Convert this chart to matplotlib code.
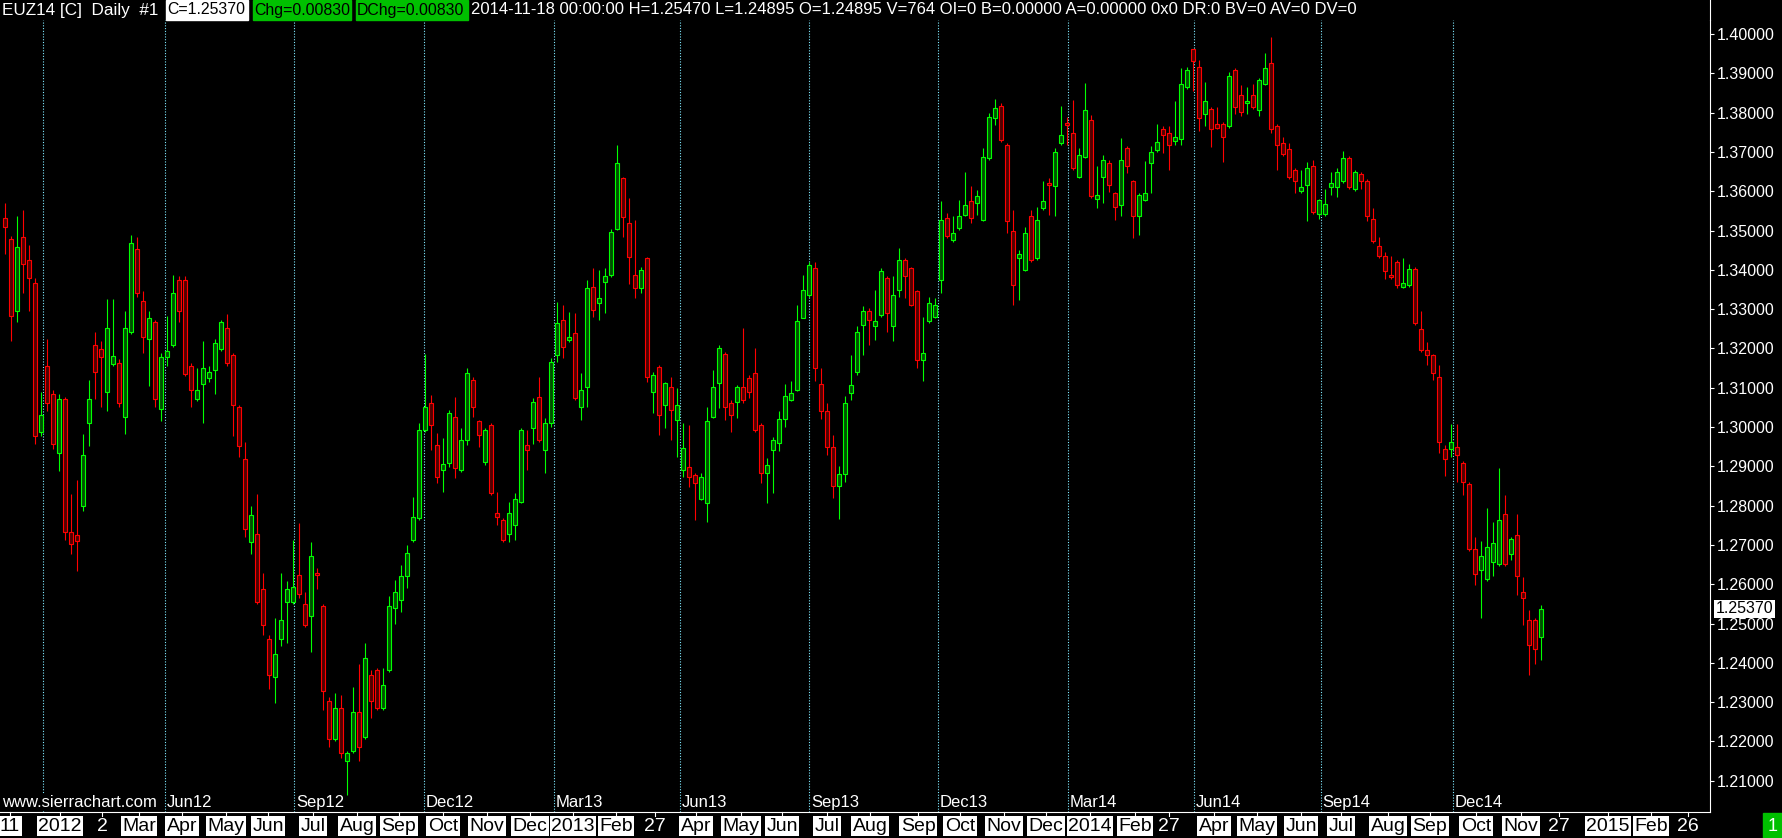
import numpy as np
import matplotlib
matplotlib.use("Agg")
import matplotlib.pyplot as plt
from matplotlib.lines import Line2D
from matplotlib.patches import Rectangle
from matplotlib.transforms import blended_transform_factory

# EUZ14 daily bars (resampled), prices in 1e-4 units
opens = [13531, 13478, 13294, 13483, 13425, 13367, 12988, 13156, 13083, 12935,
         13072, 12734, 12724, 12798, 13009, 13209, 13199, 13088, 13160, 13162,
         13025, 13241, 13452, 13320, 13225, 13267, 13046, 13178, 13209, 13373,
         13373, 13156, 13072, 13109, 13125, 13146, 13199, 13251, 13183, 13051,
         12919, 12708, 12729, 12587, 12460, 12365, 12460, 12555, 12555, 12624,
         12550, 12518, 12629, 12545, 12302, 12207, 12286, 12149, 12175, 12276,
         12212, 12370, 12381, 12286, 12381, 12540, 12560, 12620, 12712, 12768,
         12992, 13060, 12954, 12890, 12908, 13026, 12891, 12967, 13120, 13014,
         12912, 13005, 12780, 12763, 12729, 12751, 12810, 12954, 12997, 13077,
         12941, 13009, 13183, 13272, 13221, 13238, 13052, 13103, 13357, 13315,
         13370, 13387, 13505, 13633, 13518, 13387, 13353, 13429, 13090, 13153,
         13056, 13103, 13018, 12891, 12899, 12878, 12818, 12806, 13026, 13111,
         13187, 13060, 13064, 13103, 13124, 13137, 13005, 12882, 12941, 12960,
         13020, 13069, 13095, 13277, 13336, 13404, 13110, 13040, 12950, 12850,
         12880, 13086, 13141, 13260, 13294, 13256, 13286, 13379, 13256, 13349,
         13425, 13404, 13345, 13171, 13269, 13281, 13375, 13531, 13476, 13506,
         13540, 13574, 13570, 13527, 13684, 13786, 13816, 13718, 13498, 13430,
         13400, 13536, 13430, 13557, 13620, 13612, 13722, 13773, 13748, 13637,
         13688, 13782, 13580, 13637, 13671, 13595, 13565, 13710, 13625, 13536,
         13578, 13671, 13705, 13757, 13747, 13728, 13732, 13864, 13961, 13917,
         13796, 13810, 13771, 13771, 13767, 13908, 13844, 13825, 13844, 13806,
         13874, 13927, 13767, 13723, 13708, 13654, 13601, 13616, 13664, 13543,
         13543, 13611, 13611, 13625, 13684, 13606, 13645, 13625, 13528, 13460,
         13435, 13387, 13421, 13357, 13362, 13401, 13250, 13197, 13182, 13128,
         12944, 12944, 12948, 12909, 12856, 12690, 12637, 12612, 12656, 12651,
         12778, 12676, 12724, 12580, 12508, 12508, 12466]

highs = [13570, 13485, 13536, 13552, 13462, 13378, 13088, 13225, 13093, 13083,
         13077, 12829, 12866, 12982, 13119, 13241, 13220, 13325, 13325, 13172,
         13294, 13489, 13483, 13346, 13294, 13272, 13188, 13283, 13388, 13383,
         13383, 13162, 13151, 13220, 13156, 13225, 13272, 13288, 13188, 13056,
         12961, 12798, 12829, 12629, 12471, 12513, 12629, 12608, 12713, 12756,
         12581, 12708, 12640, 12550, 12312, 12323, 12318, 12175, 12339, 12397,
         12450, 12381, 12386, 12386, 12571, 12610, 12650, 12700, 12823, 13009,
         13187, 13081, 12984, 12971, 13043, 13077, 12997, 13149, 13128, 13018,
         12997, 13009, 12835, 12768, 12810, 12831, 12997, 12992, 13073, 13128,
         13022, 13175, 13319, 13310, 13293, 13289, 13137, 13374, 13404, 13399,
         13404, 13505, 13717, 13637, 13582, 13527, 13408, 13433, 13141, 13158,
         13115, 13128, 13098, 13009, 13005, 12882, 12882, 13052, 13145, 13209,
         13192, 13069, 13107, 13251, 13132, 13200, 13009, 12920, 12975, 13040,
         13110, 13116, 13311, 13387, 13421, 13421, 13150, 13060, 12980, 12900,
         13080, 13184, 13256, 13307, 13302, 13349, 13404, 13383, 13383, 13455,
         13430, 13408, 13349, 13281, 13332, 13328, 13574, 13544, 13536, 13578,
         13650, 13612, 13604, 13710, 13799, 13834, 13824, 13722, 13553, 13450,
         13510, 13553, 13561, 13625, 13633, 13710, 13816, 13790, 13832, 13710,
         13875, 13794, 13663, 13693, 13680, 13599, 13735, 13714, 13629, 13595,
         13676, 13714, 13771, 13767, 13767, 13830, 13913, 13917, 13963, 13934,
         13879, 13815, 13815, 13776, 13903, 13913, 13869, 13864, 13874, 13888,
         13952, 13992, 13771, 13737, 13723, 13659, 13654, 13674, 13679, 13581,
         13606, 13650, 13659, 13703, 13689, 13655, 13650, 13630, 13557, 13484,
         13445, 13435, 13426, 13430, 13416, 13406, 13294, 13216, 13187, 13158,
         12953, 13007, 13007, 12914, 12861, 12719, 12710, 12793, 12758, 12895,
         12827, 12720, 12778, 12619, 12534, 12513, 12547]

lows = [13441, 13220, 13267, 13341, 13294, 12956, 12977, 13040, 12945, 12887,
        12713, 12676, 12634, 12787, 12951, 13072, 13051, 13040, 13156, 13051,
        12982, 13236, 13330, 13188, 13104, 13051, 13014, 13156, 13204, 13267,
        13130, 13051, 13067, 13009, 13114, 13083, 13193, 13156, 12977, 12924,
        12719, 12676, 12550, 12471, 12334, 12297, 12444, 12450, 12550, 12566,
        12492, 12428, 12587, 12281, 12186, 12202, 12159, 12064, 12170, 12149,
        12207, 12260, 12281, 12281, 12376, 12500, 12530, 12590, 12708, 12763,
        12988, 12941, 12857, 12835, 12899, 12869, 12886, 12954, 13026, 12950,
        12903, 12827, 12751, 12708, 12708, 12712, 12806, 12891, 12958, 12963,
        12882, 13001, 13166, 13175, 13217, 13069, 13018, 13052, 13281, 13272,
        13289, 13382, 13501, 13484, 13365, 13327, 13340, 13115, 13035, 12980,
        12997, 12967, 12924, 12874, 12848, 12763, 12814, 12759, 13022, 13048,
        13018, 12988, 13022, 13060, 13073, 12988, 12857, 12806, 12831, 12940,
        13000, 13065, 13091, 13277, 13332, 13116, 13020, 12930, 12820, 12765,
        12860, 13069, 13133, 13184, 13209, 13222, 13281, 13243, 13218, 13332,
        13328, 13307, 13150, 13116, 13264, 13277, 13341, 13481, 13472, 13502,
        13536, 13519, 13540, 13523, 13680, 13769, 13726, 13493, 13311, 13324,
        13396, 13421, 13425, 13553, 13540, 13536, 13718, 13718, 13654, 13633,
        13684, 13582, 13557, 13570, 13599, 13527, 13536, 13646, 13481, 13489,
        13574, 13595, 13700, 13698, 13655, 13718, 13718, 13859, 13854, 13752,
        13767, 13713, 13757, 13674, 13762, 13796, 13791, 13796, 13810, 13791,
        13869, 13747, 13654, 13689, 13630, 13596, 13596, 13523, 13543, 13528,
        13538, 13591, 13586, 13620, 13606, 13601, 13606, 13523, 13469, 13430,
        13377, 13377, 13353, 13353, 13357, 13260, 13192, 13158, 13119, 12934,
        12875, 12924, 12861, 12827, 12685, 12598, 12515, 12607, 12622, 12646,
        12646, 12661, 12573, 12496, 12368, 12398, 12407]

closes = [13510, 13283, 13457, 13415, 13378, 12977, 13030, 13061, 12956, 13072,
          12734, 12703, 12710, 12930, 13072, 13141, 13178, 13251, 13180, 13061,
          13251, 13468, 13341, 13230, 13278, 13072, 13178, 13193, 13341, 13294,
          13135, 13093, 13093, 13151, 13141, 13214, 13267, 13162, 13056, 12951,
          12740, 12777, 12555, 12497, 12370, 12423, 12508, 12587, 12592, 12576,
          12497, 12671, 12624, 12328, 12207, 12286, 12170, 12170, 12276, 12186,
          12413, 12302, 12286, 12344, 12545, 12580, 12620, 12680, 12772, 12992,
          13052, 13005, 12874, 12905, 13035, 12895, 12967, 13137, 13052, 12980,
          12992, 12831, 12770, 12712, 12780, 12818, 12992, 12941, 13064, 12967,
          13009, 13166, 13264, 13204, 13230, 13073, 13094, 13353, 13298, 13327,
          13385, 13497, 13671, 13535, 13433, 13353, 13399, 13128, 13132, 13031,
          13111, 13043, 13056, 12946, 12874, 12857, 12874, 13014, 13103, 13200,
          13052, 13031, 13103, 13069, 13090, 12992, 12882, 12903, 12967, 13020,
          13080, 13086, 13269, 13349, 13413, 13150, 13040, 12950, 12850, 12880,
          13060, 13107, 13243, 13294, 13273, 13269, 13396, 13290, 13336, 13425,
          13383, 13311, 13171, 13188, 13315, 13311, 13527, 13485, 13493, 13536,
          13565, 13531, 13587, 13688, 13790, 13811, 13731, 13523, 13362, 13440,
          13493, 13425, 13527, 13574, 13616, 13701, 13743, 13769, 13659, 13693,
          13807, 13587, 13590, 13680, 13616, 13561, 13680, 13663, 13536, 13591,
          13595, 13701, 13726, 13742, 13718, 13737, 13874, 13908, 13932, 13786,
          13830, 13757, 13762, 13739, 13893, 13815, 13801, 13830, 13815, 13883,
          13913, 13757, 13718, 13694, 13635, 13625, 13611, 13659, 13547, 13577,
          13567, 13620, 13650, 13684, 13611, 13650, 13625, 13538, 13474, 13435,
          13396, 13382, 13362, 13367, 13401, 13265, 13197, 13182, 13138, 12963,
          12919, 12963, 12929, 12861, 12690, 12627, 12671, 12695, 12705, 12763,
          12651, 12715, 12622, 12564, 12445, 12436, 12537]

# quarter separators (bar index) and their names
quarter_bars = [6.33, 26.67, 48.17, 69.83, 91.5, 112.5, 134.0, 155.5, 177.17, 198.17, 219.33, 241.33]
quarter_names = ["", "Jun12", "Sep12", "Dec12", "Mar13", "Jun13", "Sep13", "Dec13",
                 "Mar14", "Jun14", "Sep14", "Dec14"]

# bottom date scale
date_labels = ["11", "2012", "2", "Mar", "Apr", "May", "Jun", "Jul", "Aug", "Sep", "Oct", "Nov", "Dec",
               "2013", "Feb", "27", "Apr", "May", "Jun", "Jul", "Aug", "Sep", "Oct", "Nov", "Dec",
               "2014", "Feb", "27", "Apr", "May", "Jun", "Jul", "Aug", "Sep", "Oct", "Nov", "27",
               "2015", "Feb", "26"]
date_px = [10, 60, 102, 139, 182, 226, 268, 313, 357, 399, 443, 487, 530,
           573, 616, 655, 696, 741, 782, 827, 870, 918, 960, 1004, 1046,
           1090, 1135, 1169, 1214, 1257, 1301, 1341, 1388, 1430, 1476, 1521, 1559,
           1608, 1651, 1688]
unboxed = {"2", "27", "26"}

price_ticks = [1.21, 1.22, 1.23, 1.24, 1.25, 1.26, 1.27, 1.28, 1.29, 1.30,
               1.31, 1.32, 1.33, 1.34, 1.35, 1.36, 1.37, 1.38, 1.39, 1.40]
last_price = 1.25370

W, H = 1783, 838
RED = "#ff0000"
GREEN = "#00ff00"
BOXGREEN = "#00c000"
NARROW = ["Liberation Sans Narrow", "Liberation Sans", "DejaVu Sans"]
SANS = ["Liberation Sans", "DejaVu Sans"]

fig = plt.figure(figsize=(W / 100, H / 100), dpi=100, facecolor="black")


def fx(px):
    return px / W


def fy(py):
    return 1 - py / H


# plot area in pixels
left, right, top, bottom = 0, 1710, 20, 812
ax = fig.add_axes([fx(left), fy(bottom), fx(right - left), (bottom - top) / H])
ax.set_facecolor("black")

bar_px, first_px = 6.0, 5.0
ax.set_xlim((left - first_px) / bar_px, (right - first_px) / bar_px)
px_per_unit = 3930.0  # pixels per 1.0 of price
ax.set_ylim(1.40 - (bottom - 34) / px_per_unit, 1.40 + (34 - top) / px_per_unit)

o = np.array(opens) / 10000
h = np.array(highs) / 10000
l = np.array(lows) / 10000
c = np.array(closes) / 10000
x = np.arange(len(o))
up = c >= o
cols = np.where(up, GREEN, RED)
faces = np.where(up, "#005000", "#500000")

for qb in quarter_bars:
    ax.axvline(qb, color="#7fe9ff", lw=0.8, ls=(0, (1, 1.5)), zorder=1)

ax.vlines(x, l, h, colors=cols, lw=0.8, zorder=2)
ax.bar(x, np.abs(c - o), bottom=np.minimum(o, c), width=0.6,
       color=faces, edgecolor=cols, linewidth=0.8, zorder=3)

# right price scale
ax.yaxis.tick_right()
ax.set_yticks(price_ticks)
ax.set_yticklabels([f"{t:.5f}" for t in price_ticks])
ax.tick_params(axis="y", colors="white", length=3, width=0.8, pad=2,
               labelsize=11.5, direction="out")
for lab in ax.get_yticklabels():
    lab.set_family(SANS)
ax.tick_params(axis="x", bottom=False, labelbottom=False)
ax.spines["left"].set_visible(False)
ax.spines["top"].set_visible(False)
ax.spines["right"].set_color("white")
ax.spines["bottom"].set_color("white")
ax.spines["right"].set_linewidth(0.8)
ax.spines["bottom"].set_linewidth(0.8)
fig.add_artist(Line2D([fx(right), fx(right)], [fy(top), 1], color="white", lw=0.8))

# last price marker
tr = blended_transform_factory(ax.transAxes, ax.transData)
ax.text(1 + 6 / (right - left), last_price, f"{last_price:.5f}", transform=tr,
        ha="left", va="center", color="black", fontsize=11.5, family=SANS,
        bbox=dict(boxstyle="square,pad=0.1", fc="white", ec="none"), clip_on=False)

# quarter names above the date scale
trq = blended_transform_factory(ax.transData, ax.transAxes)
for qb, name in zip(quarter_bars, quarter_names):
    if name:
        ax.text(qb + 0.3, 5 / (bottom - top), name, transform=trq, color="white",
                fontsize=12, family=SANS, ha="left", va="baseline")
fig.text(fx(2), fy(807), "www.sierrachart.com", color="white", fontsize=12, family=SANS,
         ha="left", va="baseline",
         bbox=dict(boxstyle="square,pad=0.05", fc="black", ec="none"))

# date scale
for lab, px in zip(date_labels, date_px):
    fig.add_artist(Line2D([fx(px), fx(px)], [fy(812), fy(816)], color="white", lw=0.8))
    if lab in unboxed:
        fig.text(fx(px), fy(826), lab, color="white", fontsize=14, family=NARROW,
                 ha="center", va="center")
    else:
        fig.text(fx(px), fy(826), lab, color="black", fontsize=14, family=NARROW,
                 ha="center", va="center",
                 bbox=dict(boxstyle="square,pad=0.08", fc="white", ec="none"))
fig.add_artist(Rectangle((fx(1763), 0), fx(20), 25 / H, color=BOXGREEN))
fig.text(fx(1773), fy(826), "1", color="white", fontsize=13, family=SANS,
         ha="center", va="center")

# header line
fig.add_artist(Rectangle((fx(166), fy(20)), fx(82), 20 / H, color="white"))
fig.add_artist(Rectangle((fx(253), fy(20)), fx(98), 20 / H, color=BOXGREEN))
fig.add_artist(Rectangle((fx(356), fy(20)), fx(112), 20 / H, color=BOXGREEN))
hy = fy(10)
fig.text(fx(2), hy, "EUZ14 [C]  Daily  #1", color="white", fontsize=12.3, family=SANS, va="center")
fig.text(fx(167), hy, "C=1.25370", color="black", fontsize=11.4, family=SANS, va="center")
fig.text(fx(254), hy, "Chg=0.00830", color="black", fontsize=11.4, family=SANS, va="center")
fig.text(fx(357), hy, "DChg=0.00830", color="black", fontsize=11.4, family=SANS, va="center")
fig.text(fx(471), hy, "2014-11-18 00:00:00 H=1.25470 L=1.24895 O=1.24895 V=764 OI=0 "
         "B=0.00000 A=0.00000 0x0 DR:0 BV=0 AV=0 DV=0",
         color="white", fontsize=12.0, family=SANS, va="center")

fig.savefig("out.png", dpi=100, facecolor="black")
